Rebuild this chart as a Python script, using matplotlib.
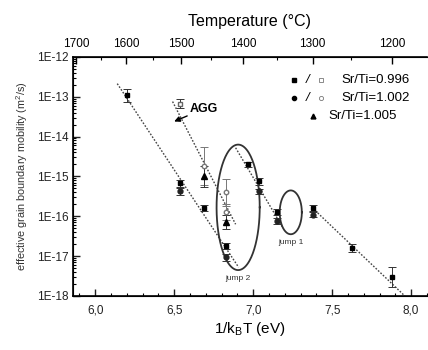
import numpy as np
import matplotlib
matplotlib.use("Agg")
import matplotlib.pyplot as plt
from matplotlib.ticker import FixedLocator, NullFormatter, LogLocator

plt.rcParams['font.family'] = ['Liberation Sans', 'DejaVu Sans']

kB = 8.617e-5  # eV/K

# Sr/Ti = 0.996, filled squares
sq_x = [6.20, 6.54, 6.69, 6.825, 6.97, 7.035, 7.15, 7.38, 7.625, 7.88]
sq_y = [1.1e-13, 6.7e-16, 1.6e-16, 1.8e-17, 2.0e-15, 7.5e-16, 1.3e-16, 1.6e-16, 1.6e-17, 3.0e-18]
sq_f = [1.45, 1.25, 1.2, 1.2, 1.15, 1.2, 1.2, 1.2, 1.25, 1.8]
# Sr/Ti = 1.002, filled circles
ci_x = [6.54, 6.825, 7.035, 7.15, 7.38]
ci_y = [4.2e-16, 9.3e-18, 4.2e-16, 7.5e-17, 1.1e-16]
ci_f = [1.2, 1.2, 1.15, 1.2, 1.15]
# open symbols (AGG)
osq_x = [6.54]
osq_y = [6.7e-14]
osq_f = [1.3]
oci_x = [6.69, 6.83, 6.83]
oci_y = [1.8e-15, 4.0e-16, 1.3e-16]
oci_f = [3.0, 2.2, 1.6]
# Sr/Ti = 1.005, triangles
tr_x = [6.69, 6.83]
tr_y = [1.0e-15, 7.0e-17]
tr_f = [1.8, 1.5]

# dotted fit lines: (x0, x1), (log y0, log y1)
fit_x = [(6.14, 6.908), (6.49, 6.889), (6.889, 7.19), (7.378, 7.96)]
fit_logy = [(-12.67, -17.28), (-13.12, -16.2), (-14.28, -16.3), (-15.8, -18.0)]

# ellipses: center x, center log y, width, height (decades), label
ell_cx = [6.905, 7.238]
ell_cy = [-15.775, -15.9]
ell_w = [0.273, 0.14]
ell_h = [3.15, 1.1]
ell_lab = ["jump 2", "jump 1"]

top_temps = [1700, 1600, 1500, 1400, 1300, 1200]
top_minor = [1650, 1550, 1450, 1350, 1250]


def inv_kt(tc):
    return 1.0 / (kB * (np.asarray(tc, dtype=float) + 273.15))


def errs(y, f):
    y = np.asarray(y); f = np.asarray(f)
    return [y - y / f, y * f - y]


fig = plt.figure(figsize=(4.28, 3.5), dpi=100)
ax = fig.add_axes([0.1706, 0.1543, 0.827, 0.683])

ax.set_yscale('log')
ax.set_xlim(5.86, 8.1)
ax.set_ylim(1e-18, 1e-12)

for (x0, x1), (l0, l1) in zip(fit_x, fit_logy):
    ax.plot([x0, x1], [10 ** l0, 10 ** l1], color='#444444', ls=(0, (1.2, 1.2)), lw=1.0)

ekw = dict(ls='none', ecolor='#333333', elinewidth=0.7, capsize=2.8, capthick=0.7)
ax.errorbar(sq_x, sq_y, yerr=errs(sq_y, sq_f), marker='s', ms=3.5, mfc='black', mec='black', **ekw)
ax.errorbar(ci_x, ci_y, yerr=errs(ci_y, ci_f), marker='o', ms=3.5, mfc='#222222', mec='#222222', **ekw)
ax.errorbar(osq_x, osq_y, yerr=errs(osq_y, osq_f), marker='s', ms=3.2, mfc='white', mec='#666666', **ekw)
ekw2 = dict(ekw)
ekw2['ecolor'] = '#777777'
ax.errorbar(oci_x, oci_y, yerr=errs(oci_y, oci_f), marker='o', ms=3.2, mfc='white', mec='#777777', **ekw2)
ax.errorbar(tr_x, tr_y, yerr=errs(tr_y, tr_f), marker='^', ms=3.8, mfc='black', mec='black', **ekw)

t = np.linspace(0, 2 * np.pi, 200)
for cx, cy, w, h, lab in zip(ell_cx, ell_cy, ell_w, ell_h, ell_lab):
    ax.plot(cx + w / 2 * np.cos(t), 10 ** (cy + h / 2 * np.sin(t)), color='#333333', lw=1.3)
    ax.text(cx, 10 ** (cy - h / 2 - 0.12), lab, fontsize=6, ha='center', va='top', color='#333333')

ax.annotate('AGG', xy=(6.5, 10 ** -13.62), xytext=(6.6, 10 ** -13.3),
            fontsize=9, fontweight='bold', ha='left', va='center',
            arrowprops=dict(arrowstyle='-|>', color='black', lw=1.0, shrinkA=0, shrinkB=0,
                            mutation_scale=8))

# legend drawn as text rows
rows_y = [0.905, 0.828, 0.752]
ax.plot([0.625], [rows_y[0]], 's', ms=3, color='black', transform=ax.transAxes)
ax.plot([0.625], [rows_y[1]], 'o', ms=3, color='black', transform=ax.transAxes)
ax.plot([0.70], [rows_y[0]], 's', ms=3, mfc='white', mec='#777777', mew=0.6, transform=ax.transAxes)
ax.plot([0.70], [rows_y[1]], 'o', ms=3, mfc='white', mec='#777777', mew=0.6, transform=ax.transAxes)
ax.plot([0.678], [rows_y[2]], '^', ms=3.5, color='black', transform=ax.transAxes)
for yy in rows_y[:2]:
    ax.text(0.662, yy, '/', transform=ax.transAxes, fontsize=9.5, ha='center', va='center',
            style='italic')
ax.text(0.757, rows_y[0], 'Sr/Ti=0.996', transform=ax.transAxes, fontsize=9.5, va='center')
ax.text(0.757, rows_y[1], 'Sr/Ti=1.002', transform=ax.transAxes, fontsize=9.5, va='center')
ax.text(0.722, rows_y[2], 'Sr/Ti=1.005', transform=ax.transAxes, fontsize=9.5, va='center')

# axes styling
ax.spines['right'].set_visible(False)
ax.set_xticks([6.0, 6.5, 7.0, 7.5, 8.0])
ax.set_xticklabels(['6,0', '6,5', '7,0', '7,5', '8,0'])
ax.xaxis.set_minor_locator(FixedLocator(np.arange(5.9, 8.11, 0.1)))
ax.yaxis.set_major_locator(FixedLocator([10.0 ** e for e in range(-18, -11)]))
ax.set_yticklabels(['1E-%d' % e for e in range(18, 11, -1)])
ax.yaxis.set_minor_locator(LogLocator(base=10, subs=np.arange(2, 10), numticks=20))
ax.yaxis.set_minor_formatter(NullFormatter())
ax.tick_params(axis='both', which='major', direction='in', length=5, width=1.0,
               labelsize=8.5, colors='#222222', pad=3)
ax.tick_params(axis='x', which='major', pad=6)
ax.tick_params(axis='both', which='minor', direction='in', length=2.5, width=0.8)
ax.tick_params(axis='y', which='both', right=False)
ax.tick_params(axis='x', which='both', top=False)
for s in ['left', 'bottom', 'top']:
    ax.spines[s].set_linewidth(1.2)

ax.set_xlabel(r'1/k$_\mathregular{B}$T (eV)', fontsize=11, labelpad=3)
ax.set_ylabel(r'effective grain boundary mobility (m$^\mathregular{2}$/s)', fontsize=7.8,
              color='#333333', labelpad=5)

top = ax.twiny()
top.set_xlim(ax.get_xlim())
top.set_xticks(inv_kt(top_temps))
top.set_xticklabels([str(v) for v in top_temps])
top.xaxis.set_minor_locator(FixedLocator(inv_kt(top_minor)))
top.tick_params(axis='x', which='major', direction='in', length=5, width=1.0, labelsize=8.5, pad=5)
top.tick_params(axis='x', which='minor', direction='in', length=2.5, width=0.8)
top.spines['right'].set_visible(False)
top.set_xlabel('Temperature (°C)', fontsize=11.5, labelpad=9)

fig.savefig('out.png', dpi=100)
